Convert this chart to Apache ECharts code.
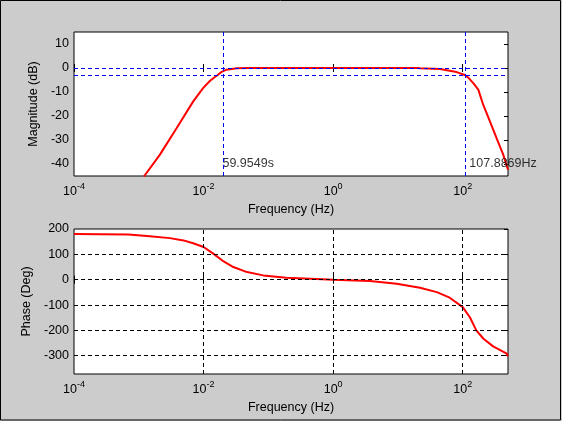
<!DOCTYPE html>
<html>
<head>
<meta charset="utf-8">
<script src="https://cdn.jsdelivr.net/npm/echarts@6/dist/echarts.min.js"></script>
<style>
  html, body { margin: 0; padding: 0; background: #cccccc; }
  #chart { width: 562px; height: 421px; }
</style>
</head>
<body>
<div id="chart"></div>
<script>
// magnitude response (Hz, dB)
var magFreq = [0.0012, 0.00212, 0.00385, 0.00693, 0.00989, 0.0126, 0.0163, 0.019, 0.0227, 0.0324, 0.05,
               1, 20, 21.9, 44.5, 80.5, 108, 125, 145.5, 174, 207, 263, 333, 422, 500];
var magDb = [-45.2, -36.1, -25.0, -13.9, -8.3, -5.3, -3.0, -1.6, -0.7, -0.1, 0,
             0, 0, -0.1, -0.4, -1.7, -2.9, -4.3, -6.3, -9.0, -15.3, -22.2, -29.2, -36.1, -42.4];

// phase response (Hz, deg)
var phaseFreq = [0.0001, 0.00069, 0.00148, 0.00302, 0.0049, 0.0069, 0.01, 0.0141, 0.0204, 0.0288, 0.0468,
                 0.0832, 0.19, 0.56, 1, 3.7, 9.55, 21.9, 39.8, 63, 100, 129, 162, 209, 295, 479, 500];
var phaseDeg = [180, 178, 171, 164, 155, 144, 129, 103, 72, 50, 30,
                17, 8, 3, 0, -5.5, -16, -32, -49, -71, -108, -148, -200, -233, -263, -292, -302];

// ticks
var freqTicks = [0.0001, 0.01, 1, 100];
var magTicks = [-40, -30, -20, -10, 0, 10];
var phaseTicks = [-300, -200, -100, 0, 100, 200];
var phaseGrid = [-300, -200, -100, 0, 100];

// cutoff markers
var cutLow = 1 / 59.9549;
var cutHigh = 107.8869;
var cutLevels = [0, -3];
var notes = [[cutLow, -40, '59.9549s'], [cutHigh, -40, '107.8869Hz']];

function pairs(xs, ys) {
  return xs.map(function (x, i) { return [x, ys[i]]; });
}

var font = 'Liberation Sans, Arial, sans-serif';
var fs = 12.5;

function freqLabel(v) {
  var e = Math.round(Math.log10(v));
  return '{b|10}{e|' + e + '}';
}

function xAxisFor(gi, pos, withLabels) {
  return {
    type: 'log', logBase: 10, gridIndex: gi, position: pos,
    min: 0.0001, max: 500,
    axisLine: { show: false },
    axisTick: { show: true, inside: true, length: 4, customValues: freqTicks, lineStyle: { color: '#000' } },
    axisLabel: {
      show: withLabels, customValues: freqTicks, formatter: freqLabel, margin: 6,
      color: '#000', fontFamily: font,
      rich: {
        b: { fontSize: fs, fontFamily: font, color: '#000' },
        e: { fontSize: 9, fontFamily: font, color: '#000', padding: [0, 0, 11, 0] }
      }
    },
    splitLine: { show: false },
    name: withLabels ? 'Frequency (Hz)' : '',
    nameLocation: 'middle', nameGap: 27,
    nameTextStyle: { fontSize: fs, fontFamily: font, color: '#000' }
  };
}

function yAxisFor(gi, pos, lo, hi, ticks, withLabels, name, gap) {
  return {
    type: 'value', gridIndex: gi, position: pos, min: lo, max: hi,
    axisLine: { show: false },
    axisTick: { show: !withLabels, inside: true, length: 4, customValues: ticks, lineStyle: { color: '#000' } },
    axisLabel: { show: withLabels, customValues: ticks, margin: 5, fontSize: fs, fontFamily: font, color: '#000' },
    splitLine: { show: false },
    name: name, nameLocation: 'middle', nameGap: gap,
    nameTextStyle: { fontSize: fs, fontFamily: font, color: '#000' }
  };
}

var chart = echarts.init(document.getElementById('chart'), null, { renderer: 'canvas' });

chart.setOption({
  animation: false,
  backgroundColor: '#cccccc',
  graphic: [{
    type: 'rect', shape: { x: 0.5, y: 0.5, width: 560, height: 419.5 },
    style: { fill: 'none', stroke: '#000', lineWidth: 1 }, silent: true, z: 100
  }],
  grid: [
    { left: 74, top: 32, width: 434, height: 144, show: true, backgroundColor: '#fff', borderColor: '#000', borderWidth: 1 },
    { left: 74, top: 229, width: 434, height: 145, show: true, backgroundColor: '#fff', borderColor: '#000', borderWidth: 1 }
  ],
  xAxis: [
    xAxisFor(0, 'bottom', true),
    xAxisFor(0, 'top', false),
    xAxisFor(1, 'bottom', true),
    xAxisFor(1, 'top', false)
  ],
  yAxis: [
    yAxisFor(0, 'left', -45, 15, magTicks, true, 'Magnitude (dB)', 27),
    yAxisFor(0, 'right', -45, 15, magTicks, false, '', 0),
    yAxisFor(1, 'left', -372, 200, phaseTicks, true, 'Phase (Deg)', 36),
    yAxisFor(1, 'right', -372, 200, phaseTicks, false, '', 0)
  ],
  series: [
    {
      name: 'cutoffs', type: 'line', xAxisIndex: 0, yAxisIndex: 0, data: [], z: 2,
      markLine: {
        silent: true, symbol: 'none', label: { show: false },
        lineStyle: { color: '#0000ff', type: [4, 3], width: 1, opacity: 1 },
        data: cutLevels.map(function (v) { return { yAxis: v }; })
          .concat([{ xAxis: cutLow }, { xAxis: cutHigh }])
      }
    },
    {
      name: 'Magnitude', type: 'line', xAxisIndex: 0, yAxisIndex: 0, z: 3,
      data: pairs(magFreq, magDb), showSymbol: false, clip: true,
      lineStyle: { color: '#ff0000', width: 2 }, itemStyle: { color: '#ff0000' }
    },
    {
      name: 'notes', type: 'scatter', xAxisIndex: 0, yAxisIndex: 0, z: 4,
      data: notes, symbolSize: 1, itemStyle: { color: 'rgba(0,0,0,0)' },
      label: {
        show: true, position: 'right', distance: 4, color: '#000',
        fontSize: fs, fontFamily: font,
        formatter: function (p) { return p.value[2]; }
      }
    },
    {
      name: 'phaseGrid', type: 'line', xAxisIndex: 2, yAxisIndex: 2, data: [], z: 2,
      markLine: {
        silent: true, symbol: 'none', label: { show: false },
        lineStyle: { color: '#000', type: [4, 3], width: 1 },
        data: phaseGrid.map(function (v) { return { yAxis: v }; })
          .concat(freqTicks.slice(1).map(function (f) { return { xAxis: f }; }))
      }
    },
    {
      name: 'Phase', type: 'line', xAxisIndex: 2, yAxisIndex: 2, z: 3,
      data: pairs(phaseFreq, phaseDeg), showSymbol: false, clip: true,
      lineStyle: { color: '#ff0000', width: 2 }, itemStyle: { color: '#ff0000' }
    }
  ]
});
</script>
</body>
</html>
